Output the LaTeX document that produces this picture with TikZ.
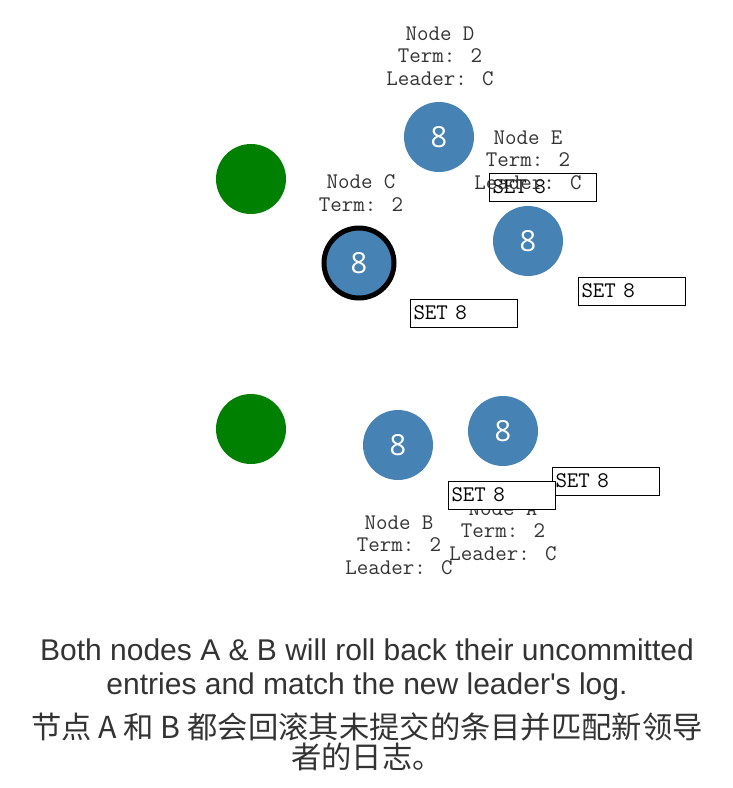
\documentclass[tikz,border=0pt]{standalone}
\usepackage{fontspec}
\setmainfont{Liberation Sans}
\newfontfamily\cjk{Noto Sans CJK SC}
\newfontfamily\digitfont{Open Sans}
\definecolor{raftblue}{HTML}{4682B4}
\definecolor{raftgreen}{HTML}{008000}
\definecolor{captiongray}{HTML}{333333}
\tikzset{
  server/.style={circle, fill=raftblue, minimum size=70pt, inner sep=0pt, text=white,
    font=\digitfont\fontsize{29}{29}\selectfont},
  leadersrv/.style={server, draw=black, line width=5pt},
  candidate/.style={circle, fill=raftgreen, minimum size=70pt, inner sep=0pt},
  nodelabel/.style={align=center, text=captiongray, inner sep=0pt,
    font=\ttfamily\fontsize{22.3}{22.5}\selectfont},
  setbox/.style={draw=black, line width=1pt, fill=white, anchor=west,
    text width=101pt, align=left, inner xsep=3pt, inner ysep=0pt, minimum height=28pt,
    font=\ttfamily\fontsize{22.3}{22}\selectfont},
  caption/.style={align=center, text=captiongray, inner sep=0pt}
}
\begin{document}
\begin{tikzpicture}[x=1pt, y=-1pt]
\useasboundingbox (0,0) rectangle (733,788);

\node[candidate] (g1) at (251,179) {};
\node[candidate] (g2) at (251,429) {};

\node[server] (d) at (439,137) {8};
\node[server] (e) at (528,241) {8};
\node[leadersrv] (c) at (359,263) {8};
\node[server] (b) at (398,445) {8};
\node[server] (a) at (503,431) {8};

\node[nodelabel] (dlab) at (440,56) {Node D\\Term: 2\\Leader: C};
\node[nodelabel] (clab) at (361,193) {Node C\\Term: 2};
\node[nodelabel] (blab) at (399,545) {Node B\\Term: 2\\Leader: C};
\node[nodelabel] (alab) at (503,531) {Node A\\Term: 2\\Leader: C};

\node[setbox] (s1) at (489,187) {SET 8};
\node[setbox] (s2) at (578,291) {SET 8};
\node[setbox] (s3) at (410,313) {SET 8};
\node[setbox] (s4) at (552,481) {SET 8};
\node[setbox] (s5) at (448,495) {SET 8};

\node[nodelabel] (elab) at (528,160) {Node E\\Term: 2\\Leader: C};

\node[caption, font=\fontsize{30}{34}\selectfont] (cap1) at (367,670)
  {Both nodes A \& B will roll back their uncommitted\\entries and match the new leader\textquotesingle s log.};
\node[caption, font=\cjk\fontsize{30.3}{30}\selectfont] (cap2) at (367,742)
  {节点 A 和 B 都会回滚其未提交的条目并匹配新领导\\者的日志。};
\end{tikzpicture}
\end{document}
